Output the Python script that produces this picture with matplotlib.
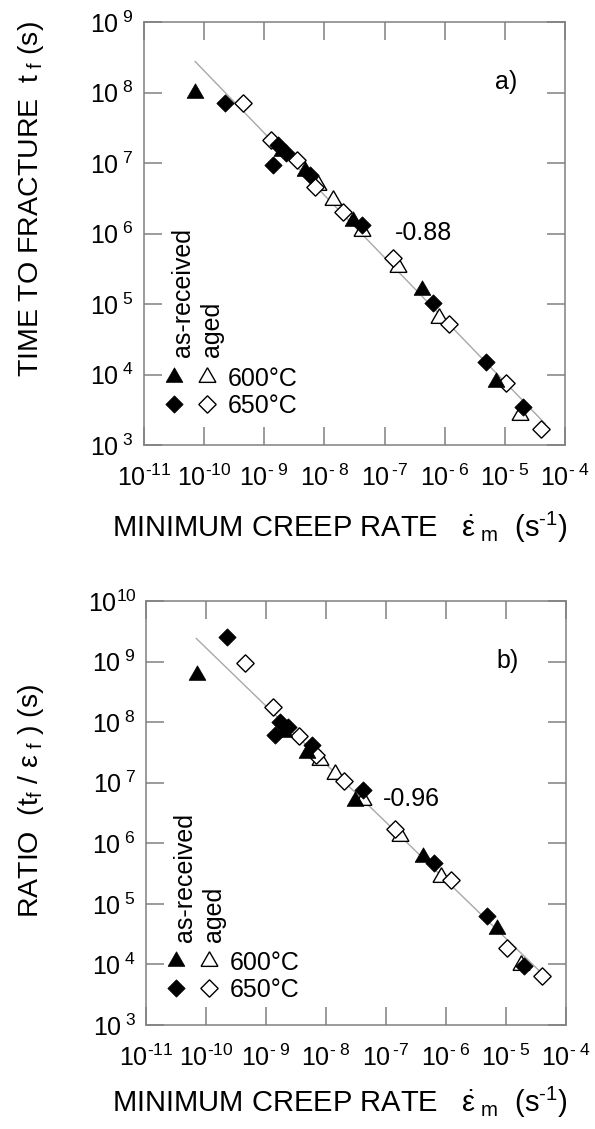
import matplotlib
matplotlib.use("Agg")
import matplotlib.pyplot as plt
from matplotlib.legend_handler import HandlerTuple

plt.rcParams['font.family'] = ['Liberation Sans', 'DejaVu Sans']
plt.rcParams['mathtext.fontset'] = 'custom'
plt.rcParams['mathtext.rm'] = 'Liberation Sans'
plt.rcParams['mathtext.it'] = 'Liberation Sans:italic'
plt.rcParams['mathtext.sf'] = 'Liberation Sans'

# minimum creep rate (1/s) for each group
rate_ar600 = [7.1e-11, 2.0e-9, 4.8e-9, 3.0e-8, 4.2e-7, 7.1e-6]
rate_ar650 = [2.2e-10, 1.7e-9, 2.3e-9, 1.4e-9, 5.8e-9, 4.2e-8, 6.3e-7, 4.9e-6, 2.0e-5]
rate_ag600 = [7.9e-9, 1.4e-8, 4.2e-8, 1.7e-7, 8.1e-7, 1.8e-5]
rate_ag650 = [4.5e-10, 1.3e-9, 3.5e-9, 6.9e-9, 2.0e-8, 1.4e-7, 1.2e-6, 1.05e-5, 4.0e-5]

# time to fracture (s)
tf_ar600 = [9.8e7, 1.5e7, 7.6e6, 1.5e6, 1.6e5, 7.9e3]
tf_ar650 = [7.2e7, 1.8e7, 1.4e7, 9.3e6, 6.8e6, 1.3e6, 1.05e5, 1.5e4, 3.5e3]
tf_ag600 = [4.9e6, 3.0e6, 1.1e6, 3.4e5, 6.3e4, 2.7e3]
tf_ag650 = [7.1e7, 2.1e7, 1.1e7, 4.6e6, 2.0e6, 4.5e5, 5.2e4, 7.5e3, 1.7e3]

# ratio tf / strain at fracture (s)
ratio_ar600 = [6.0e8, 6.9e7, 3.1e7, 4.9e6, 6.0e5, 3.8e4]
ratio_ar650 = [2.5e9, 1.0e8, 8.4e7, 6.2e7, 4.2e7, 7.6e6, 4.7e5, 6.2e4, 9.3e3]
ratio_ag600 = [2.4e7, 1.4e7, 5.1e6, 1.3e6, 2.8e5, 9.8e3]
ratio_ag650 = [9.3e8, 1.8e8, 5.8e7, 2.9e7, 1.05e7, 1.7e6, 2.5e5, 1.9e4, 6.5e3]

# fitted lines (end points)
fit_a_x = [7.1e-11, 4.7e-5]
fit_a_y = [2.75e8, 2.0e3]
fit_b_x = [6.9e-11, 4.1e-5]
fit_b_y = [2.4e9, 6.9e3]

xticks = [1e-11, 1e-10, 1e-9, 1e-8, 1e-7, 1e-6, 1e-5, 1e-4]
xticklabels = ['10$^{\u201011}$', '10$^{\u201010}$', '10$^{\u2010\\ 9}$',
               '10$^{\u2010\\ 8}$', '10$^{\\,\u20107}$', '10$^{\u2010\\ 6}$',
               '10$^{\u2010\\ 5}$', '10$^{\u2010\\ 4}$']
yticks_a = [1e3, 1e4, 1e5, 1e6, 1e7, 1e8, 1e9]
yticks_b = [1e3, 1e4, 1e5, 1e6, 1e7, 1e8, 1e9, 1e10]
ylabels_b = ['10$^{\\ 3}$', '10$^{\\ 4}$', '10$^{\\ 5}$', '10$^{\\ 6}$',
             '10$^{\\ 7}$', '10$^{\\ 8}$', '10$^{\\ 9}$', '10$^{10}$']
ylabels_a = ylabels_b[:-1]

fig = plt.figure(figsize=(5.95, 11.29), dpi=100)
ax1 = fig.add_axes([0.2420, 0.6058, 0.7076, 0.3747])
ax2 = fig.add_axes([0.2454, 0.0921, 0.7059, 0.3756])

gray = '#808080'
tri = (3, 0, 0)
dia = (4, 0, 0)


def draw(ax, yar600, yar650, yag600, yag650, fx, fy, yticks, ylabels,
         ylim, slope_txt, slope_pos, tag, leg_y, head_y):
    ax.plot(fx, fy, color='#a8a8a8', lw=1.0, zorder=1)
    ar6, = ax.plot(rate_ar600, yar600, ls='none', marker=tri, ms=14,
                   mfc='black', mec='black', mew=0.5, zorder=3)
    ar5, = ax.plot(rate_ar650, yar650, ls='none', marker=dia, ms=12.5,
                   mfc='black', mec='black', mew=0.5, zorder=3)
    ag6, = ax.plot(rate_ag600, yag600, ls='none', marker=tri, ms=14,
                   mfc='white', mec='black', mew=1.0, zorder=2)
    ag5, = ax.plot(rate_ag650, yag650, ls='none', marker=dia, ms=12.5,
                   mfc='white', mec='black', mew=1.0, zorder=2)
    ax.set_xscale('log')
    ax.set_yscale('log')
    ax.set_xlim(1e-11, 1e-4)
    ax.set_ylim(*ylim)
    ax.set_xticks(xticks)
    ax.set_xticklabels(xticklabels)
    ax.set_yticks(yticks)
    ax.set_yticklabels(ylabels)
    ax.minorticks_off()
    ax.tick_params(direction='in', length=13, width=1.1, color=gray,
                   top=True, right=True, labelsize=18)
    ax.tick_params(axis='x', pad=14)
    ax.tick_params(axis='y', pad=7)
    for sp in ax.spines.values():
        sp.set_color(gray)
        sp.set_linewidth(1.1)
    ax.text(slope_pos[0], slope_pos[1], slope_txt, transform=ax.transAxes,
            fontsize=18, ha='left', va='center')
    ax.text(0.86, 0.858, tag, transform=ax.transAxes, fontsize=18,
            ha='center', va='center')
    ax.text(0.092, head_y, 'as-received', transform=ax.transAxes, fontsize=18,
            rotation=90, ha='center', va='bottom')
    ax.text(0.162, head_y, 'aged', transform=ax.transAxes, fontsize=18,
            rotation=90, ha='center', va='bottom')
    ax.legend([(ar6, ag6), (ar5, ag5)], ['600°C', '650°C'],
              handler_map={tuple: HandlerTuple(ndivide=None, pad=0.5)},
              loc='lower left', bbox_to_anchor=(0.045, leg_y),
              frameon=False, fontsize=18, handlelength=2.2,
              handletextpad=0.4, labelspacing=0.1, borderpad=0,
              borderaxespad=0)


draw(ax1, tf_ar600, tf_ar650, tf_ag600, tf_ag650, fit_a_x, fit_a_y,
     yticks_a, ylabels_a, (1e3, 1e9), '-0.88', (0.596, 0.501), 'a)',
     0.065, 0.208)
draw(ax2, ratio_ar600, ratio_ar650, ratio_ag600, ratio_ag650, fit_b_x, fit_b_y,
     yticks_b, ylabels_b, (1e3, 1e10), '-0.96', (0.564, 0.533), 'b)',
     0.055, 0.196)

xlab = ('MINIMUM CREEP RATE   $\\dot{\\mathrm{\\varepsilon}}_{\\ \\mathrm{m}}$'
        '  (s$^{\u20101}$)')
fig.text(0.188, 0.5244, xlab, fontsize=21, ha='left', va='baseline')
fig.text(0.188, 0.0153, xlab, fontsize=21, ha='left', va='baseline')
fig.text(0.052, 0.666, 'TIME TO FRACTURE  t$_{\\ \\mathrm{f}}$ (s)',
         fontsize=20.5, rotation=90, ha='center', va='bottom')
fig.text(0.052, 0.187,
         'RATIO  (t$_{\\mathrm{f}}$ / $\\mathrm{\\varepsilon}_{\\ \\mathrm{f}}$ ) (s)',
         fontsize=20.5, rotation=90, ha='center', va='bottom')

fig.savefig('out.png', dpi=100)
